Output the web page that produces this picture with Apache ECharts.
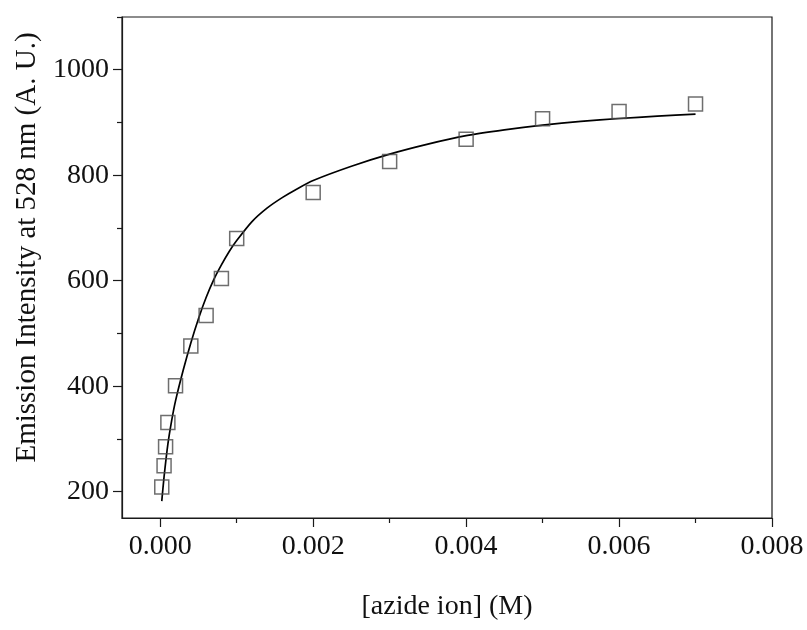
<!DOCTYPE html>
<html>
<head>
<meta charset="utf-8">
<script src="https://cdn.jsdelivr.net/npm/echarts@6/dist/echarts.min.js"></script>
<style>html,body{margin:0;padding:0;background:#fff}#c{width:807px;height:630px}</style>
</head>
<body>
<div id="c"></div>
<script>
// Measured data points
var azideX = [0.00002, 0.00005, 0.00007, 0.0001, 0.0002, 0.0004, 0.0006, 0.0008, 0.001, 0.002, 0.003, 0.004, 0.005, 0.006, 0.007];
var emission = [209, 249, 285, 331, 401, 476, 534, 604, 680, 767, 826, 868, 907, 921, 935];

// Fitted curve
var fitX = [0.00002, 0.00005, 0.0001, 0.00015, 0.0002, 0.0003, 0.0004, 0.0005, 0.0006, 0.0007, 0.0008, 0.0009, 0.001, 0.0012, 0.0014, 0.0016, 0.0018, 0.002, 0.0025, 0.003, 0.0035, 0.004, 0.0045, 0.005, 0.0055, 0.006, 0.0065, 0.007];
var fitY = [182, 228, 290, 335, 372, 430, 482, 528, 568, 602, 630, 655, 676, 712, 738, 758, 775, 790, 817, 840, 859, 875, 886, 895, 902, 907.5, 912, 916];

// Axis ticks
var xMajorTicks = [0, 0.002, 0.004, 0.006, 0.008];
var xMinorTicks = [0.001, 0.003, 0.005, 0.007];
var yMajorTicks = [200, 400, 600, 800, 1000];
var yMinorTicks = [300, 500, 700, 900, 1100];

var FONT = 'Liberation Serif';
var AX = '#1a1a1a';

var pts = azideX.map(function (x, i) { return [x, emission[i]]; });
var fit = fitX.map(function (x, i) { return [x, fitY[i]]; });

var chart = echarts.init(document.getElementById('c'), null, {renderer: 'canvas'});
chart.setOption({
  animation: false,
  backgroundColor: '#fff',
  grid: {left: 122, right: 35, top: 17, bottom: 112, show: true, borderColor: AX, borderWidth: 1.2, backgroundColor: 'transparent'},
  xAxis: [{
    type: 'value', min: -0.0005, max: 0.008, position: 'bottom',
    axisLine: {show: true, onZero: false, lineStyle: {color: AX, width: 1.2}},
    axisTick: {show: true, inside: false, length: 9, customValues: xMajorTicks, lineStyle: {color: AX, width: 1.2}},
    axisLabel: {show: true, customValues: xMajorTicks, margin: 15, fontFamily: FONT, fontSize: 28, color: '#111',
      formatter: function (v) { return v.toFixed(3); }},
    splitLine: {show: false},
    name: '[azide ion] (M)', nameLocation: 'middle', nameGap: 75,
    nameTextStyle: {fontFamily: FONT, fontSize: 28, color: '#111'}
  }, {
    type: 'value', min: -0.0005, max: 0.008, position: 'bottom',
    axisLine: {show: false, onZero: false},
    axisTick: {show: true, inside: false, length: 5, customValues: xMinorTicks, lineStyle: {color: AX, width: 1.2}},
    axisLabel: {show: false},
    splitLine: {show: false}
  }],
  yAxis: [{
    type: 'value', min: 150, max: 1100, position: 'left',
    axisLine: {show: true, onZero: false, lineStyle: {color: AX, width: 1.2}},
    axisTick: {show: true, inside: false, length: 9, customValues: yMajorTicks, lineStyle: {color: AX, width: 1.2}},
    axisLabel: {show: true, customValues: yMajorTicks, margin: 13, fontFamily: FONT, fontSize: 28, color: '#111',
      formatter: function (v) { return String(v); }},
    splitLine: {show: false},
    name: 'Emission Intensity at 528 nm (A. U.)', nameLocation: 'middle', nameGap: 80, nameRotate: 90,
    nameTextStyle: {fontFamily: FONT, fontSize: 29, color: '#111', padding: [0, 0, 0, 40]}
  }, {
    type: 'value', min: 150, max: 1100, position: 'left',
    axisLine: {show: false, onZero: false},
    axisTick: {show: true, inside: false, length: 5, customValues: yMinorTicks, lineStyle: {color: AX, width: 1.2}},
    axisLabel: {show: false},
    splitLine: {show: false}
  }],
  series: [{
    type: 'line', data: fit, xAxisIndex: 0, yAxisIndex: 0,
    showSymbol: false, smooth: 0.2, lineStyle: {color: '#000', width: 1.7}, z: 2, silent: true
  }, {
    type: 'scatter', data: pts, xAxisIndex: 0, yAxisIndex: 0,
    symbol: 'rect', symbolSize: 14,
    itemStyle: {color: 'rgba(0,0,0,0)', borderColor: '#4a4a4a', borderWidth: 1.5}, z: 3
  }]
});
</script>
</body>
</html>
